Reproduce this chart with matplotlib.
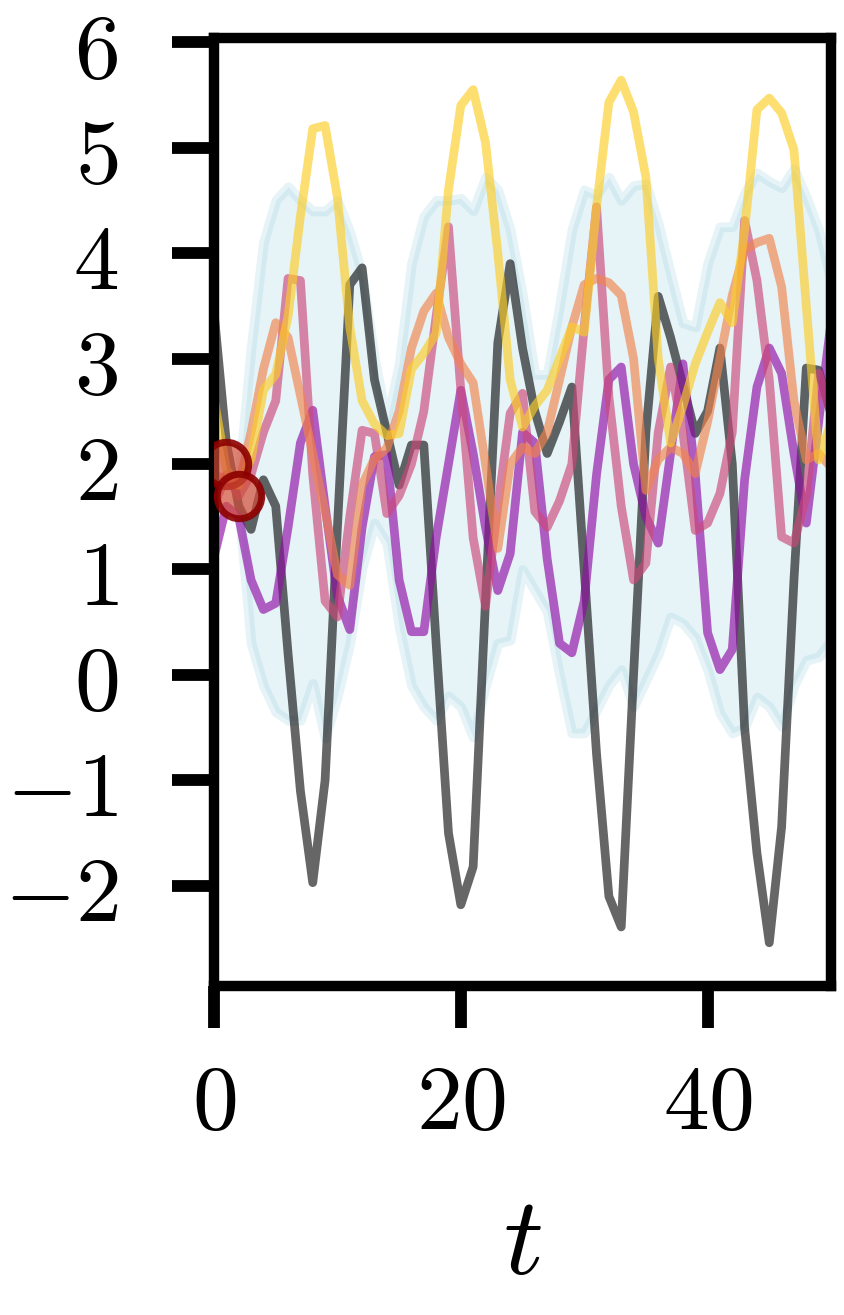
import numpy as np
import matplotlib
matplotlib.use("Agg")
import matplotlib.pyplot as plt

plt.rcParams["mathtext.fontset"] = "cm"

# time grid
t = np.arange(51)

# reference trajectory (grey)
truth = [3.44, 2.2, 1.6, 1.38, 1.85, 1.6, 0.2, -1.1, -1.97, -1.0,
         1.4, 3.7, 3.86, 2.8, 2.3, 1.8, 2.18, 2.18, 0.3, -1.5,
         -2.18, -1.82, 0.7, 3.15, 3.9, 3.1, 2.5, 2.1, 2.4, 2.73,
         1.0, -0.75, -2.1, -2.39, 0.0, 2.3, 3.59, 3.2, 2.75, 2.29,
         2.5, 3.1, 2.0, -0.5, -1.69, -2.54, -1.44, 0.9, 2.91, 2.89, 2.48]

# ensemble members (plasma colours)
member_a = [1.12, 1.6, 1.5, 0.9, 0.62, 0.68, 1.4, 2.2, 2.51, 1.6,
            0.75, 0.43, 1.4, 2.07, 2.09, 0.9, 0.41, 0.41, 1.3, 2.0,
            2.7, 2.1, 1.4, 0.8, 1.15, 2.3, 2.2, 1.1, 0.3, 0.21,
            0.7, 1.9, 2.8, 2.92, 2.0, 1.5, 1.25, 2.1, 2.95, 1.9,
            0.4, 0.05, 0.24, 1.85, 2.73, 3.1, 2.86, 2.1, 1.44, 2.4, 3.34]
member_b = [1.6, 1.9, 1.7, 1.9, 2.3, 2.6, 3.76, 3.74, 1.9, 0.7,
            0.55, 1.5, 2.32, 2.29, 1.53, 1.7, 2.0, 2.5, 3.4, 4.25,
            2.7, 1.3, 0.65, 1.6, 2.48, 2.67, 1.55, 1.4, 1.65, 2.0,
            3.3, 4.44, 2.64, 1.6, 0.9, 1.06, 2.3, 2.92, 2.3, 1.37,
            1.44, 1.72, 2.3, 4.31, 3.74, 2.8, 1.31, 1.25, 1.7, 2.86, 2.48]
member_c = [1.9, 1.85, 1.8, 2.3, 2.9, 3.34, 3.2, 2.65, 2.1, 1.55,
            0.95, 0.85, 1.8, 2.05, 2.15, 2.5, 3.1, 3.45, 3.62, 3.2,
            2.95, 2.77, 2.0, 1.2, 2.0, 2.16, 2.1, 2.3, 2.8, 3.3,
            3.7, 3.76, 3.72, 3.6, 3.0, 1.75, 2.04, 2.16, 2.1, 1.91,
            2.4, 3.0, 3.6, 4.03, 4.1, 4.14, 3.68, 2.6, 2.04, 2.1, 1.97]
member_d = [2.62, 1.95, 1.8, 2.05, 2.7, 2.85, 3.4, 4.35, 5.18, 5.21,
            4.53, 3.3, 2.6, 2.38, 2.27, 2.29, 2.9, 3.05, 3.24, 4.6,
            5.4, 5.55, 5.05, 4.0, 2.8, 2.35, 2.55, 2.7, 3.0, 3.3,
            3.25, 4.44, 5.43, 5.64, 5.34, 4.72, 3.0, 2.2, 2.55, 2.95,
            3.25, 3.53, 3.34, 4.22, 5.36, 5.47, 5.33, 4.98, 3.5, 2.04, 2.39]
members = [member_a, member_b, member_c, member_d]
member_shades = [0.3, 0.5, 0.7, 0.9]

# spread band, starts at the last observation
band_t = t[2:]
band_hi = [1.85, 3.1, 4.1, 4.5, 4.63, 4.5, 4.4, 4.4, 4.5, 4.2,
           3.8, 3.0, 2.4, 2.95, 3.9, 4.35, 4.5, 4.5, 4.52, 4.4,
           4.72, 4.6, 4.22, 3.6, 2.85, 2.85, 3.5, 4.22, 4.6, 4.55,
           4.72, 4.5, 4.64, 4.66, 4.28, 3.8, 3.34, 3.3, 3.9, 4.25,
           4.25, 4.57, 4.76, 4.68, 4.62, 4.8, 4.53, 4.22, 3.74]
band_lo = [1.6, 0.3, -0.1, -0.35, -0.43, -0.43, -0.08, -0.6, -0.2, 0.3,
           1.02, 1.44, 1.25, 0.46, -0.1, -0.3, -0.43, -0.2, -0.3, -0.59,
           -0.1, 0.3, 0.33, 1.0, 0.8, 0.6, 0.0, -0.55, -0.55, -0.33,
           -0.1, 0.05, -0.3, -0.05, 0.2, 0.55, 0.49, 0.35, 0.05, -0.36,
           -0.55, -0.5, -0.21, -0.3, -0.49, -0.1, 0.14, 0.17, 0.33]

# observations
obs_t = [1, 2]
obs_v = [2.0, 1.7]

xticks = [0, 20, 40]
yticks = [-2, -1, 0, 1, 2, 3, 4, 5, 6]

fig = plt.figure(figsize=(8.45, 13.15), dpi=100)
ax = fig.add_axes([0.2533, 0.2502, 0.7301, 0.7209])

ax.fill_between(band_t, band_lo, band_hi, color="lightblue", alpha=0.3, lw=7)
ax.plot(t, truth, color="k", alpha=0.6, lw=6.3)
cmap = plt.get_cmap("plasma")
for vals, shade in zip(members, member_shades):
    ax.plot(t, vals, color=cmap(shade), alpha=0.65, lw=6.3)
ax.plot(obs_t, obs_v, "o", ms=32, mfc=(0.82, 0.3, 0.22, 0.7),
        mec=(0.55, 0.0, 0.0, 0.9), mew=5, zorder=5)

ax.set_xlim(0, 50)
ax.set_ylim(-2.95, 6.04)
ax.set_xticks(xticks)
ax.set_xticklabels([f"${v}$" for v in xticks])
ax.set_yticks(yticks)
ax.set_yticklabels([f"${v}$" for v in yticks])
ax.tick_params(direction="out", length=30, width=8.5, labelsize=66)
ax.tick_params(axis="x", pad=22)
ax.tick_params(axis="y", pad=39)
for sp in ax.spines.values():
    sp.set_linewidth(7.5)
ax.set_xlabel("$t$", fontsize=80, labelpad=30)

fig.savefig("out.png", dpi=100)
